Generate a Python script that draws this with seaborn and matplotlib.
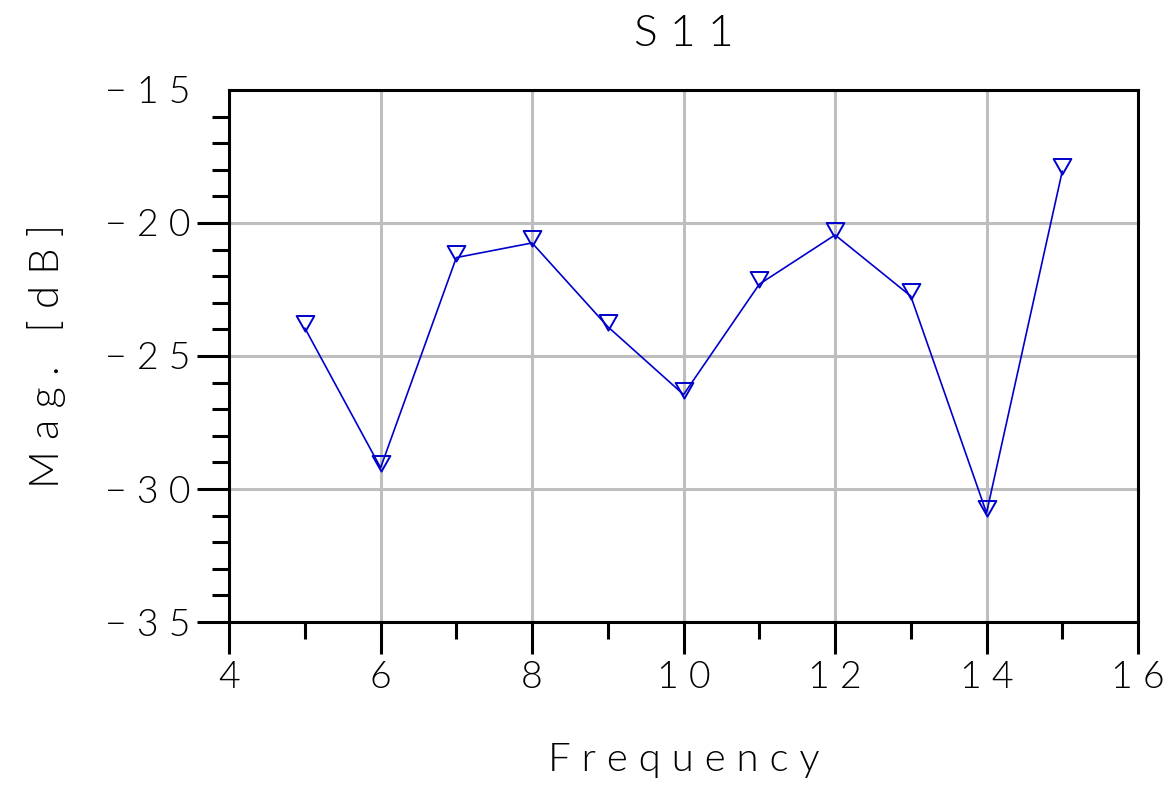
import numpy as np
import pandas as pd
import matplotlib
matplotlib.use("Agg")
import matplotlib.pyplot as plt
from matplotlib.ticker import MultipleLocator
from matplotlib.path import Path
import seaborn as sns

# S11 data
freq = [5, 6, 7, 8, 9, 10, 11, 12, 13, 14, 15]
mag_db = [-23.95, -29.2, -21.3, -20.75, -23.9, -26.45, -22.3, -20.45, -22.75, -30.9, -18.05]

x_ticks = [4, 6, 8, 10, 12, 14, 16]
y_ticks = [-35, -30, -25, -20, -15]

df = pd.DataFrame({"Frequency": freq, "Mag": mag_db})

sns.set_style("white")
plt.rcParams["font.family"] = ["Lato", "DejaVu Sans"]
plt.rcParams["font.weight"] = 300
plt.rcParams["axes.labelweight"] = 300
plt.rcParams["axes.titleweight"] = 300
plt.rcParams["text.color"] = "black"
plt.rcParams["axes.labelcolor"] = "black"

# down-pointing triangle, data point sits low inside the triangle
tri = Path([(-1.0, 1.41), (1.0, 1.41), (0.0, -0.35), (-1.0, 1.41)],
           [Path.MOVETO, Path.LINETO, Path.LINETO, Path.CLOSEPOLY])

fig, ax = plt.subplots(figsize=(11.69, 7.85), dpi=100)
fig.subplots_adjust(left=0.196, right=0.9735, top=0.8854, bottom=0.2076)

sns.lineplot(data=df, x="Frequency", y="Mag", ax=ax, color="#0000cc",
             linewidth=1.2, marker=tri, markersize=18,
             markerfacecolor="none", markeredgecolor="#0000cc",
             markeredgewidth=1.4)

ax.set_xlim(4, 16)
ax.set_ylim(-35, -15)
ax.set_xticks(x_ticks)
ax.set_yticks(y_ticks)
ax.set_xticklabels([" ".join(str(t)) for t in x_ticks])
ax.set_yticklabels(["\u2212 " + " ".join(str(abs(t))) for t in y_ticks])
ax.xaxis.set_minor_locator(MultipleLocator(1))
ax.yaxis.set_minor_locator(MultipleLocator(1))

ax.grid(True, which="major", color="#bebebe", linewidth=2.2)
ax.set_axisbelow(True)

for s in ax.spines.values():
    s.set_color("black")
    s.set_linewidth(2.2)
    s.set_visible(True)

ax.tick_params(which="major", direction="out", length=23, width=2.2,
               color="black", labelcolor="black", labelsize=27, pad=5)
ax.tick_params(which="minor", direction="out", length=12, width=2.2,
               color="black")
ax.tick_params(left=True, bottom=True, which="both")
ax.yaxis.get_major_ticks()[-1].tick1line.set_visible(False)

ax.set_xlabel("F r e q u e n c y", fontsize=29, labelpad=34)
ax.set_ylabel("M a g .   [ d B ]", fontsize=30, labelpad=28)
ax.set_title("S 1 1", fontsize=32, pad=32)

fig.savefig("out.png", dpi=100)
